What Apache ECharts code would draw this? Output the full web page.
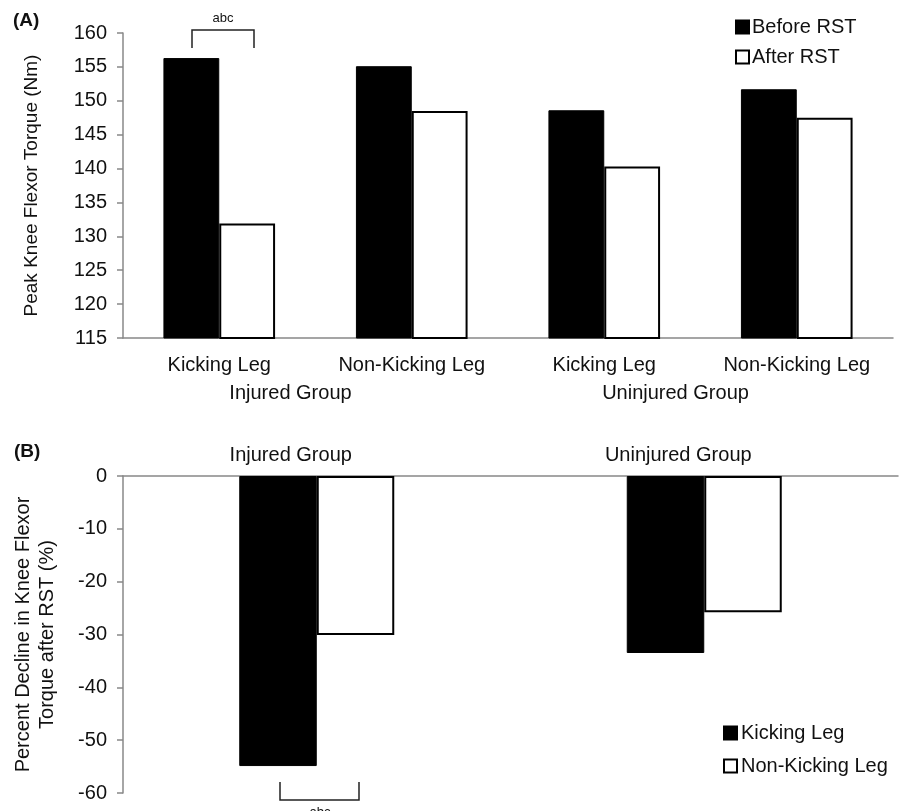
<!DOCTYPE html>
<html>
<head>
<meta charset="utf-8">
<script src="https://cdn.jsdelivr.net/npm/echarts@6/dist/echarts.min.js"></script>
<style>
html,body{margin:0;padding:0;background:#fff;}
#chart{width:909px;height:811px;}
</style>
</head>
<body>
<div id="chart"></div>
<script>
// ---- Data ----
const legCategories = ['Kicking Leg', 'Non-Kicking Leg', 'Kicking Leg', 'Non-Kicking Leg'];
const groupCategories = ['Injured Group', 'Uninjured Group'];
const beforeRST = [156.3, 155.1, 148.6, 151.7];
const afterRST = [131.9, 148.5, 140.3, 147.5];
const kickingDecline = [-54.9, -33.5];
const nonKickingDecline = [-30.1, -25.8];
const torqueTicks = { min: 115, max: 160, interval: 5 };
const declineTicks = { min: -60, max: 0, interval: 10 };

const FONT = '"Liberation Sans", Arial, sans-serif';
const TXT = '#111';
const AX = '#888';

const chart = echarts.init(document.getElementById('chart'), null, { renderer: 'canvas' });

const yAxisCommon = {
  type: 'value',
  splitLine: { show: false },
  axisLine: { show: true, lineStyle: { color: AX, width: 1.5 } },
  axisTick: { show: true, length: 6, lineStyle: { color: AX, width: 1.5 } },
  axisLabel: { color: TXT, fontFamily: FONT, fontSize: 20, margin: 16 }
};

const option = {
  animation: false,
  backgroundColor: '#fff',
  textStyle: { fontFamily: FONT },
  grid: [
    { left: 123, right: 16, top: 33, height: 305, containLabel: false, outerBoundsMode: 'none' },
    { left: 123, right: 11, top: 476, height: 317, containLabel: false, outerBoundsMode: 'none' }
  ],
  xAxis: [
    {
      gridIndex: 0, type: 'category', data: legCategories, position: 'bottom',
      axisLine: { show: true, onZero: false, lineStyle: { color: AX, width: 1.5 } },
      axisTick: { show: false },
      axisLabel: { color: TXT, fontFamily: FONT, fontSize: 20, margin: 17, interval: 0 }
    },
    {
      gridIndex: 0, type: 'category', data: groupCategories, position: 'bottom', offset: 30,
      axisLine: { show: false }, axisTick: { show: false },
      axisLabel: { color: TXT, fontFamily: FONT, fontSize: 20, margin: 15, interval: 0, padding: [0, 50, 0, 0] }
    },
    {
      gridIndex: 1, type: 'category', data: groupCategories, position: 'top',
      axisLine: { show: true, onZero: false, lineStyle: { color: AX, width: 1.5 } },
      axisTick: { show: false },
      axisLabel: { color: TXT, fontFamily: FONT, fontSize: 20, margin: 11, interval: 0, padding: [0, 52, 0, 0] }
    }
  ],
  yAxis: [
    Object.assign({}, yAxisCommon, { gridIndex: 0, min: torqueTicks.min, max: torqueTicks.max, interval: torqueTicks.interval,
      name: 'Peak Knee Flexor Torque (Nm)', nameLocation: 'middle', nameGap: 82, nameRotate: 90,
      nameTextStyle: { color: TXT, fontFamily: FONT, fontSize: 19 } }),
    Object.assign({}, yAxisCommon, { gridIndex: 1, min: declineTicks.min, max: declineTicks.max, interval: declineTicks.interval,
      name: 'Percent Decline in Knee Flexor\nTorque after RST (%)', nameLocation: 'middle', nameGap: 64, nameRotate: 90,
      nameTextStyle: { color: TXT, fontFamily: FONT, fontSize: 20, lineHeight: 24 } })
  ],
  legend: [
    {
      data: ['Before RST', 'After RST'], orient: 'vertical', left: 735, top: 17, padding: 0,
      itemWidth: 13, itemHeight: 13, itemGap: 10, icon: 'rect',
      textStyle: { color: TXT, fontFamily: FONT, fontSize: 20, padding: [0, 0, 0, -2] }
    },
    {
      data: ['Kicking Leg', 'Non-Kicking Leg'], orient: 'vertical', left: 723, top: 723, padding: 0,
      itemWidth: 13, itemHeight: 13, itemGap: 13, icon: 'rect',
      textStyle: { color: TXT, fontFamily: FONT, fontSize: 20, padding: [0, 0, 0, -1] }
    }
  ],
  series: [
    { name: 'Before RST', type: 'bar', xAxisIndex: 0, yAxisIndex: 0, data: beforeRST,
      barGap: '0%', barCategoryGap: '42%',
      itemStyle: { color: '#000', borderColor: '#000', borderWidth: 1 } },
    { name: 'After RST', type: 'bar', xAxisIndex: 0, yAxisIndex: 0, data: afterRST,
      barGap: '0%', barCategoryGap: '42%',
      itemStyle: { color: '#fff', borderColor: '#000', borderWidth: 2 } },
    { name: 'Kicking Leg', type: 'bar', xAxisIndex: 2, yAxisIndex: 1, data: kickingDecline,
      barGap: '0%', barCategoryGap: '60%',
      itemStyle: { color: '#000', borderColor: '#000', borderWidth: 1 } },
    { name: 'Non-Kicking Leg', type: 'bar', xAxisIndex: 2, yAxisIndex: 1, data: nonKickingDecline,
      barGap: '0%', barCategoryGap: '60%',
      itemStyle: { color: '#fff', borderColor: '#000', borderWidth: 2 } }
  ],
  graphic: [
    { type: 'text', left: 13, top: 11, style: { text: '(A)', fontFamily: FONT, fontSize: 19, fontWeight: 'bold', fill: TXT } },
    { type: 'text', left: 14, top: 442, style: { text: '(B)', fontFamily: FONT, fontSize: 19, fontWeight: 'bold', fill: TXT } },
    { type: 'polyline', shape: { points: [[192, 48], [192, 30], [254, 30], [254, 48]] },
      style: { stroke: '#222', lineWidth: 1.5, fill: null } },
    { type: 'text', x: 223, y: 18, style: { text: 'abc', fontFamily: FONT, fontSize: 13, fill: TXT, align: 'center', verticalAlign: 'middle' } },
    { type: 'polyline', shape: { points: [[280, 782], [280, 800], [359, 800], [359, 782]] },
      style: { stroke: '#222', lineWidth: 1.5, fill: null } },
    { type: 'text', x: 320, y: 812, style: { text: 'abc', fontFamily: FONT, fontSize: 13, fill: TXT, align: 'center', verticalAlign: 'middle' } }
  ]
};

chart.setOption(option);
</script>
</body>
</html>
